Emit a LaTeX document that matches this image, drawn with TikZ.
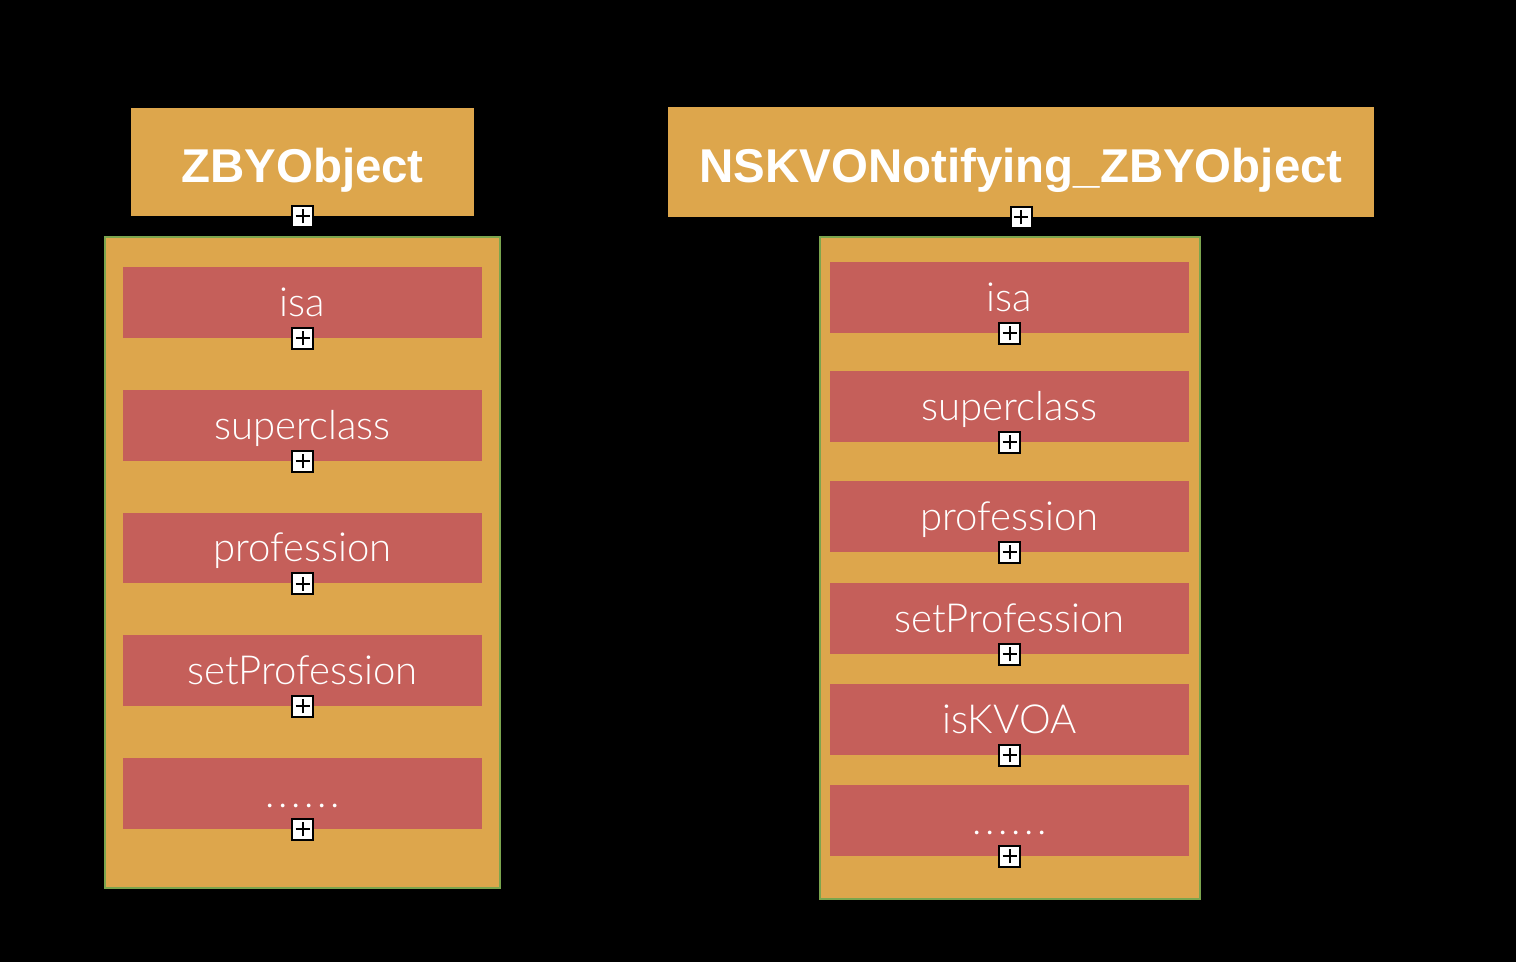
\documentclass[tikz,border=0pt]{standalone}
\usepackage{fontspec}
\setmainfont{Liberation Sans}
\newfontfamily\fieldfont{Lato Light}

\definecolor{boxorange}{HTML}{DDA64C}
\definecolor{fieldred}{HTML}{C55F5A}
\definecolor{framegreen}{HTML}{7BA54E}

\newcommand{\moredots}{.\kern2pt.\kern2pt.\kern2pt.\kern2pt.\kern2pt.}

\tikzset{
  classbox/.style={fill=boxorange, text=white, inner sep=0pt,
    font=\fontsize{27}{32}\selectfont\bfseries, text height=23.8pt, text depth=0pt},
  holder/.style={fill=boxorange, draw=framegreen, line width=0.04cm, inner sep=0pt},
  field/.style={fill=fieldred, text=white, inner sep=0pt,
    font=\fieldfont\fontsize{22.8}{27}\selectfont, minimum width=7.18cm, minimum height=1.42cm,
    text height=15.5pt, text depth=0pt},
  plusmark/.style={draw=black, fill=white, line width=0.04cm, minimum size=0.42cm, inner sep=0pt,
    path picture={
      \draw[black, line width=0.04cm]
        ([xshift=-0.14cm]path picture bounding box.center) -- ([xshift=0.14cm]path picture bounding box.center)
        ([yshift=-0.14cm]path picture bounding box.center) -- ([yshift=0.14cm]path picture bounding box.center);
    }}
}

\begin{document}
\begin{tikzpicture}[x=0.02cm, y=-0.02cm]
  % Background
  \fill[black] (0,0) rectangle (1516,962);

  % Class ZBYObject
  \node[classbox, minimum width=6.86cm, minimum height=2.16cm] (clsL) at (302.5,162) {ZBYObject};
  \node[holder, minimum width=7.9cm, minimum height=13.02cm] (holdL) at (302.5,562.5) {};
  \node[field] (isaL)   at (302.5,302.5) {isa};
  \node[field] (supL)   at (302.5,425.5) {superclass};
  \node[field] (profL)  at (302.5,548)   {profession};
  \node[field] (setpL)  at (302.5,670.5) {setProfession};
  \node[field] (moreL)  at (302.5,793.5) {\moredots};

  % Class NSKVONotifying_ZBYObject
  \node[classbox, minimum width=14.12cm, minimum height=2.2cm] (clsR) at (1021,162) {NSKVONotifying\_ZBYObject};
  \node[holder, minimum width=7.6cm, minimum height=13.24cm] (holdR) at (1010,568) {};
  \node[field] (isaR)   at (1009.5,297.5) {isa};
  \node[field] (supR)   at (1009.5,406.5) {superclass};
  \node[field] (profR)  at (1009.5,516.5) {profession};
  \node[field] (setpR)  at (1009.5,618.5) {setProfession};
  \node[field] (kvoaR)  at (1009.5,719.5) {isKVOA};
  \node[field] (moreR)  at (1009.5,820.5) {\moredots};

  % Handles
  \node[plusmark] (hclsL)  at (clsL.south)  {};
  \node[plusmark] (hisaL)  at (isaL.south)  {};
  \node[plusmark] (hsupL)  at (supL.south)  {};
  \node[plusmark] (hprofL) at (profL.south) {};
  \node[plusmark] (hsetpL) at (setpL.south) {};
  \node[plusmark] (hmoreL) at (moreL.south) {};

  \node[plusmark] (hclsR)  at (clsR.south)  {};
  \node[plusmark] (hisaR)  at (isaR.south)  {};
  \node[plusmark] (hsupR)  at (supR.south)  {};
  \node[plusmark] (hprofR) at (profR.south) {};
  \node[plusmark] (hsetpR) at (setpR.south) {};
  \node[plusmark] (hkvoaR) at (kvoaR.south) {};
  \node[plusmark] (hmoreR) at (moreR.south) {};
\end{tikzpicture}
\end{document}
